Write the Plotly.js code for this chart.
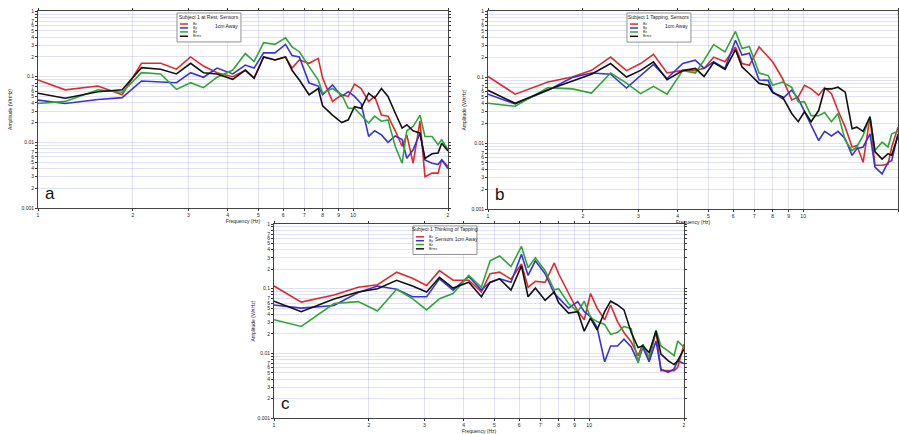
<!DOCTYPE html>
<html>
<head>
<meta charset="utf-8">
<script src="https://cdn.plot.ly/plotly-3.0.1.min.js"></script>
<style>html,body{margin:0;padding:0;background:#fff;}#chart{width:899px;height:434px;}</style>
</head>
<body>
<div id="chart"></div>
<script>
// Frequency sample points (Hz)
const freq = [1, 1.22, 1.55, 1.85, 2.13, 2.45, 2.75, 3.05, 3.35, 3.7,
  4.15, 4.55, 4.85, 5.2, 5.65, 6.1, 6.4, 6.75, 7.25, 7.75,
  8.0, 8.6, 9.2, 9.65, 10.1, 10.6, 11.2, 11.7, 12.3, 12.9,
  13.6, 14.3, 14.8, 15.5, 16.3, 16.9, 17.8, 18.6, 19.1, 20];

const seriesNames = ['Bx', 'By', 'Bz', 'Brms'];
const seriesColors = ['#e02a2a', '#3434d8', '#2fa634', '#111111'];

// Panel a: Subject 1 at Rest
const aBx = [0.089,0.063,0.072,0.053,0.16, 0.16,0.13,0.2,0.145,0.115, 0.1,0.125,0.095,0.2,0.18, 0.2,0.135,0.18,0.16,0.19, 0.095,0.042,0.053,0.05,0.077, 0.066,0.042,0.05,0.026,0.025, 0.015,0.0087,0.013,0.0048,0.021, 0.003,0.0034,0.0034,0.0054,0.0043];
const aBy = [0.044,0.039,0.045,0.048,0.086, 0.084,0.081,0.115,0.098,0.135, 0.11,0.15,0.135,0.23,0.23, 0.31,0.21,0.2,0.08,0.072, 0.053,0.075,0.05,0.059,0.05, 0.039,0.0123,0.015,0.013,0.01, 0.0125,0.011,0.0057,0.0077,0.0138, 0.0054,0.0048,0.0046,0.0054,0.004];
const aBz = [0.039,0.042,0.063,0.058,0.115, 0.11,0.064,0.081,0.068,0.098, 0.126,0.225,0.17,0.33,0.31, 0.39,0.285,0.24,0.142,0.089, 0.056,0.066,0.053,0.033,0.033, 0.026,0.0196,0.025,0.021,0.022, 0.0087,0.0048,0.015,0.0174,0.026, 0.0123,0.0123,0.0092,0.011,0.0077];
const aBrms = [0.056,0.047,0.059,0.063,0.137, 0.13,0.11,0.16,0.115,0.11, 0.091,0.126,0.095,0.2,0.18, 0.2,0.125,0.089,0.053,0.066, 0.036,0.026,0.02,0.022,0.035, 0.033,0.056,0.047,0.066,0.05, 0.028,0.0165,0.0185,0.015,0.0138, 0.0057,0.0067,0.0069,0.0097,0.0074];

// Panel b: Subject 1 Tapping
const bBx = [0.102,0.055,0.084,0.1,0.126, 0.2,0.125,0.16,0.22,0.115, 0.126,0.125,0.135,0.2,0.17, 0.285,0.16,0.15,0.285,0.2, 0.17,0.095,0.045,0.05,0.075, 0.066,0.053,0.069,0.056,0.031, 0.0174,0.0087,0.0092,0.0051,0.025, 0.0046,0.0046,0.0048,0.0087,0.0174];
const bBy = [0.055,0.039,0.063,0.098,0.115, 0.11,0.068,0.105,0.155,0.095, 0.16,0.18,0.135,0.17,0.135, 0.36,0.215,0.23,0.09,0.089, 0.06,0.047,0.063,0.047,0.03, 0.0196,0.0109,0.015,0.0128,0.015, 0.0116,0.0065,0.0082,0.0087,0.0138, 0.0043,0.0034,0.0051,0.0054,0.0138];
const bBz = [0.04,0.036,0.069,0.066,0.057, 0.115,0.081,0.056,0.072,0.055, 0.126,0.115,0.18,0.31,0.24, 0.49,0.27,0.29,0.115,0.105, 0.075,0.084,0.07,0.042,0.042, 0.026,0.026,0.029,0.021,0.028, 0.0109,0.0077,0.0087,0.013,0.025, 0.0077,0.0103,0.0087,0.0138,0.015];
const bBrms = [0.063,0.04,0.064,0.087,0.11, 0.16,0.1,0.126,0.17,0.091, 0.125,0.135,0.102,0.165,0.13, 0.26,0.142,0.112,0.08,0.075, 0.058,0.05,0.028,0.021,0.03, 0.021,0.031,0.066,0.066,0.07, 0.059,0.0165,0.0174,0.015,0.025, 0.0074,0.0057,0.0069,0.0065,0.013];

// Panel c: Subject 1 Thinking of Tapping
const cBx = [0.11,0.062,0.08,0.105,0.115, 0.18,0.145,0.112,0.19,0.135, 0.135,0.089,0.17,0.18,0.14, 0.24,0.105,0.13,0.125,0.25, 0.17,0.087,0.045,0.033,0.084, 0.05,0.033,0.056,0.031,0.021, 0.015,0.0092,0.0138,0.0077,0.022, 0.0054,0.0054,0.0054,0.0061,0.0138];
const cBy = [0.056,0.05,0.055,0.087,0.11, 0.098,0.075,0.075,0.142,0.095, 0.155,0.095,0.126,0.142,0.126, 0.34,0.16,0.27,0.17,0.084, 0.072,0.05,0.063,0.044,0.037, 0.025,0.0074,0.013,0.013,0.0165, 0.0125,0.0074,0.0123,0.0074,0.0155, 0.0057,0.0051,0.0057,0.0077,0.0069];
const cBz = [0.033,0.026,0.059,0.063,0.045, 0.098,0.07,0.047,0.07,0.084, 0.16,0.105,0.27,0.32,0.22, 0.45,0.21,0.3,0.19,0.095, 0.1,0.059,0.044,0.064,0.036, 0.031,0.028,0.0196,0.021,0.026, 0.024,0.0071,0.0138,0.0087,0.023, 0.013,0.0109,0.0092,0.0155,0.0123];
const cBrms = [0.064,0.044,0.069,0.089,0.1, 0.135,0.11,0.089,0.15,0.102, 0.126,0.075,0.125,0.142,0.095, 0.225,0.075,0.102,0.066,0.089, 0.061,0.042,0.044,0.022,0.035, 0.023,0.044,0.064,0.056,0.047, 0.021,0.0123,0.013,0.0103,0.022, 0.0097,0.0077,0.0067,0.0077,0.0116];

// Tick labels
const xTickVals = [1,2,3,4,5,6,7,8,9,10,20];
const xTickText = ['1','2','3','4','5','6','7','8','9','10','2'];
const yTickVals = [0.001,0.002,0.003,0.004,0.005,0.006,0.007,0.008,0.009,
  0.01,0.02,0.03,0.04,0.05,0.06,0.07,0.08,0.09,
  0.1,0.2,0.3,0.4,0.5,0.6,0.7,0.8,0.9,1];
const yTickText = ['0.001','2','3','4','5','6','7','','',
  '0.01','2','3','4','5','6','7','','',
  '0.1','2','3','4','5','6','7','','','1'];

const panelLetters = ['a','b','c'];
const legendTitles = ['Subject 1 at Rest, Sensors','Subject 1 Tapping, Sensors','Subject 1 Thinking of Tapping'];
const legendSubtitles = ['1cm Away','1cm Away','Sensors 1cm Away'];
const panelData = [[aBx,aBy,aBz,aBrms],[bBx,bBy,bBz,bBrms],[cBx,cBy,cBz,cBrms]];

const W = 899, H = 434;
// plot areas in pixels [left,right,top,bottom]
const boxes = [[38,448,11,208],[488,898,11,209],[274,684,224,418]];
const yStandoff = [8, 4, 1];
const suffix = ['', '2', '3'];
const FONT = 'Liberation Sans, Arial, Helvetica, sans-serif';
const GRID = 'rgba(150,150,225,0.42)';

const traces = [];
const layout = {
  width: W, height: H,
  margin: {l:0, r:0, t:0, b:0},
  paper_bgcolor: '#ffffff', plot_bgcolor: '#ffffff',
  showlegend: false,
  font: {family: FONT, size: 5, color: '#222'},
  shapes: [], annotations: []
};

boxes.forEach((b, i) => {
  const s = suffix[i];
  const xd = [b[0]/W, b[1]/W];
  const yd = [1 - b[3]/H, 1 - b[2]/H];
  layout['xaxis' + s] = {
    type: 'log', range: [0, Math.log10(20)], domain: xd, anchor: 'y' + s,
    tickvals: xTickVals, ticktext: xTickText, tickfont: {size: 5, color:'#222'},
    ticks: 'outside', ticklen: 2, tickcolor: '#333',
    showline: true, linecolor: '#444', linewidth: 1, mirror: 'ticks',
    showgrid: true, gridcolor: GRID, gridwidth: 0.7, zeroline: false,
    automargin: false,
    title: {text: 'Frequency (Hz)', font: {size: 5, color:'#222'}, standoff: 0}
  };
  layout['yaxis' + s] = {
    type: 'log', range: [-3, 0], domain: yd, anchor: 'x' + s,
    tickvals: yTickVals, ticktext: yTickText, tickfont: {size: 5, color:'#222'},
    ticks: 'outside', ticklen: 2, tickcolor: '#333',
    showline: true, linecolor: '#444', linewidth: 1, mirror: 'ticks',
    showgrid: true, gridcolor: GRID, gridwidth: 0.7, zeroline: false,
    automargin: false,
    title: {text: 'Amplitude (V/rtHz)', font: {size: 5, color:'#222'}, standoff: yStandoff[i]}
  };
  panelData[i].forEach((vals, k) => {
    traces.push({
      x: freq, y: vals, type: 'scatter', mode: 'lines',
      name: seriesNames[k], xaxis: 'x' + s, yaxis: 'y' + s,
      line: {color: seriesColors[k], width: 1.6}
    });
  });
  const xr = 'x' + s + ' domain', yr = 'y' + s + ' domain';
  // legend box
  layout.shapes.push({type:'rect', xref: xr, yref: yr, x0: 0.339, x1: 0.495, y0: 0.843, y1: 0.99,
    line: {color:'#777', width: 0.8}, fillcolor: '#ffffff', layer: 'above'});
  const ys = [0.934, 0.914, 0.894, 0.872];
  seriesNames.forEach((nm, k) => {
    layout.shapes.push({type:'line', xref: xr, yref: yr, x0: 0.346, x1: 0.366, y0: ys[k], y1: ys[k],
      line: {color: seriesColors[k], width: 1.5}, layer: 'above'});
    layout.annotations.push({xref: xr, yref: yr, x: 0.372, y: ys[k], xanchor:'left', yanchor:'middle',
      text: nm, showarrow: false, font: {size: 3.5, color:'#333'}});
  });
  layout.annotations.push({xref: xr, yref: yr, x: 0.417, y: 0.972, xanchor:'center', yanchor:'middle',
    text: legendTitles[i], showarrow: false, font: {size: 5, color:'#222'}});
  layout.annotations.push({xref: xr, yref: yr, x: i === 2 ? 0.445 : 0.46, y: 0.925, xanchor:'center', yanchor:'middle',
    text: legendSubtitles[i], showarrow: false, font: {size: 5, color:'#222'}});
  layout.annotations.push({xref: xr, yref: yr, x: 0.012, y: 0.015, xanchor:'left', yanchor:'bottom',
    text: panelLetters[i], showarrow: false, font: {size: 17, color:'#111'}});
});

Plotly.newPlot('chart', traces, layout, {displayModeBar: false, staticPlot: true});
</script>
</body>
</html>
